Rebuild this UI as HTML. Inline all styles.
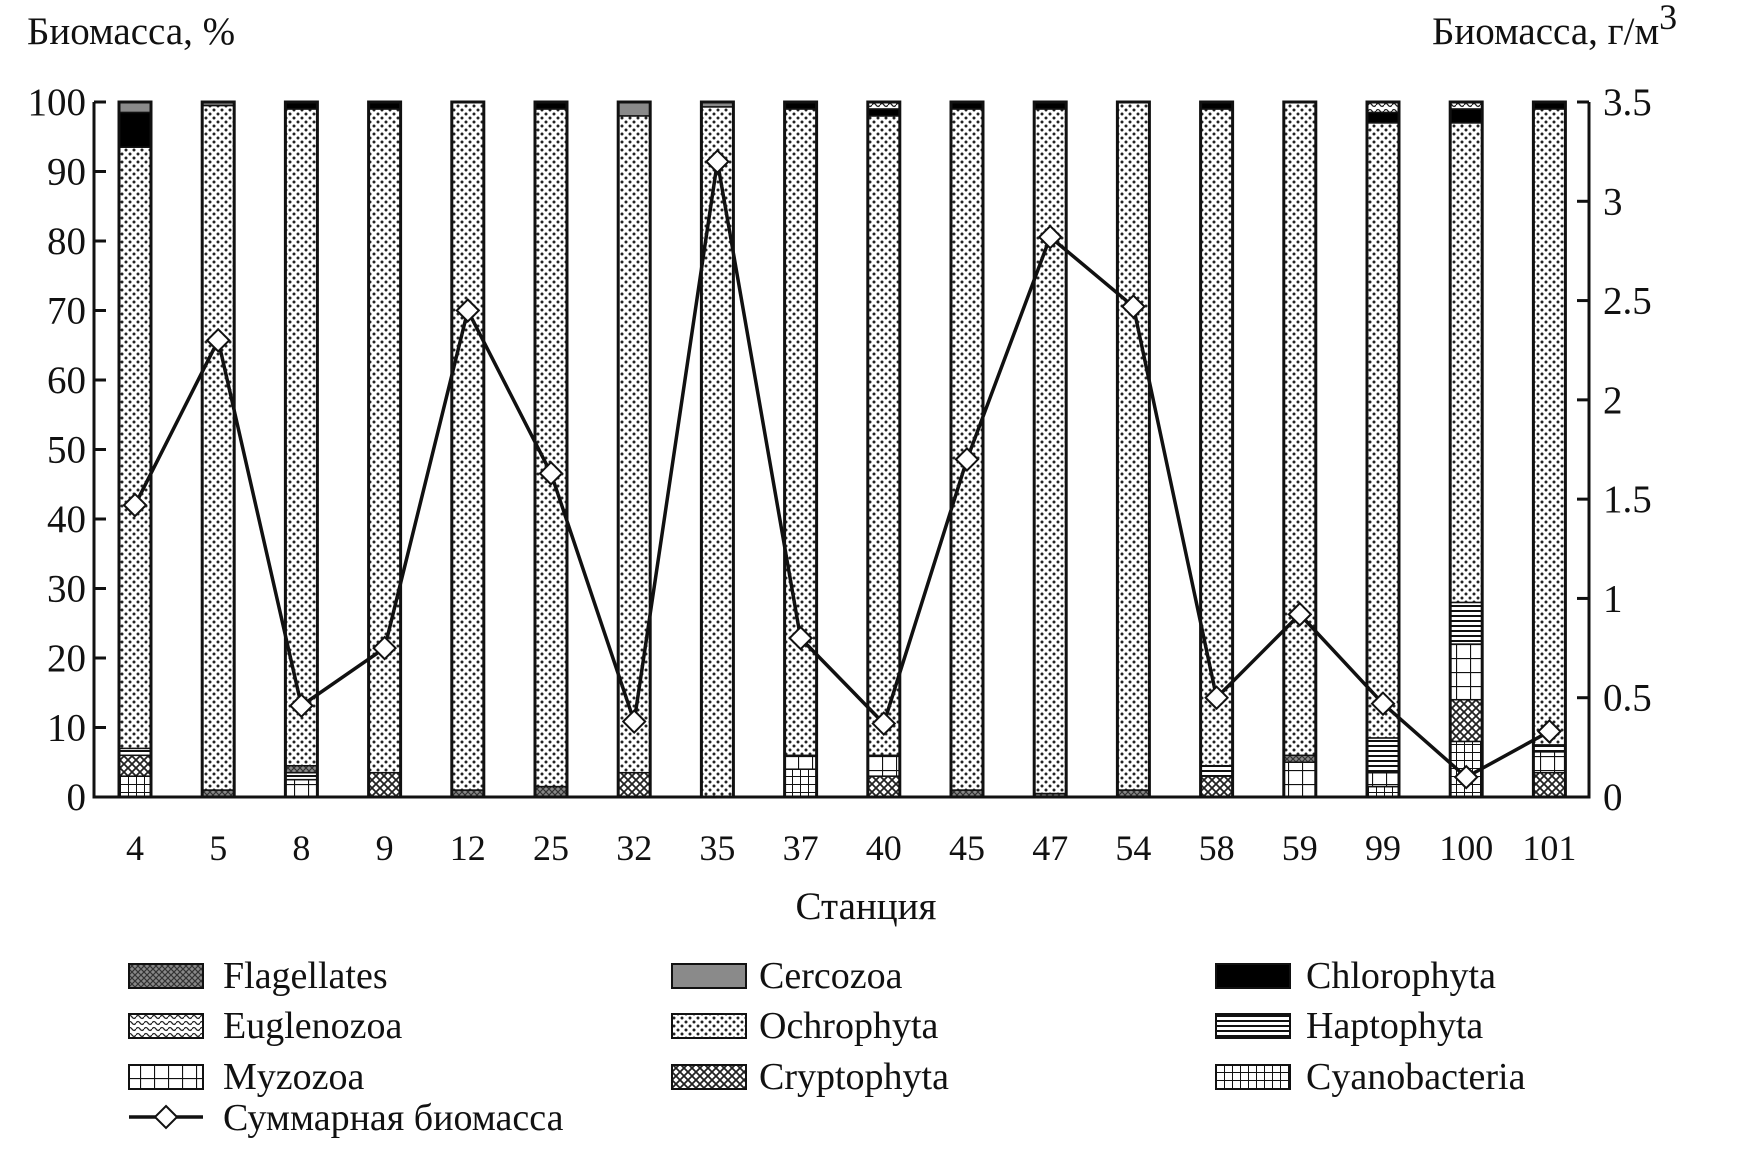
<!DOCTYPE html>
<html><head><meta charset="utf-8"><style>
html,body{margin:0;padding:0;background:#fff}
svg{display:block}
text{font-family:"Liberation Serif",serif;fill:#111}
</style></head><body>
<svg id="chart" width="1742" height="1151" viewBox="0 0 1742 1151" xmlns="http://www.w3.org/2000/svg">
<defs>
<pattern id="p-dots" width="8" height="8" patternUnits="userSpaceOnUse"><rect width="8" height="8" fill="#fff"/><circle cx="2" cy="2" r="1.5" fill="#222"/><circle cx="6" cy="6" r="1.5" fill="#222"/></pattern>
<pattern id="p-cyan" width="8" height="8" patternUnits="userSpaceOnUse"><rect width="8" height="8" fill="#fff"/><path d="M0 0H8M0 0V8" stroke="#111" stroke-width="2"/></pattern>
<pattern id="p-myzo" width="14" height="14" patternUnits="userSpaceOnUse"><rect width="14" height="14" fill="#fff"/><path d="M0 0H14M0 0V14" stroke="#111" stroke-width="2.2"/></pattern>
<pattern id="p-crypto" width="8" height="8" patternUnits="userSpaceOnUse"><rect width="8" height="8" fill="#fff"/><path d="M0 0L8 8M8 0L0 8" stroke="#222" stroke-width="1.8"/></pattern>
<pattern id="p-flag" width="6" height="6" patternUnits="userSpaceOnUse"><rect width="6" height="6" fill="#888"/><path d="M0 0L6 6M6 0L0 6" stroke="#333" stroke-width="1.2"/></pattern>
<pattern id="p-hapto" width="6" height="5" patternUnits="userSpaceOnUse"><rect width="6" height="5" fill="#fff"/><path d="M0 1H6" stroke="#111" stroke-width="2"/></pattern>
<pattern id="p-eugl" width="8" height="6" patternUnits="userSpaceOnUse"><rect width="8" height="6" fill="#fff"/><path d="M0 3Q2 0 4 3T8 3" stroke="#222" stroke-width="1.3" fill="none"/></pattern>
</defs>
<g id="plot"></g>
</svg>
<script>
const stations=["4","5","8","9","12","25","32","35","37","40","45","47","54","58","59","99","100","101"];
const cyanobacteria=[3,0,0,0,0,0,0,0,4,0,0,0,0,0,0,1.5,8,0];
const cryptophyta=[3,0,0,3.5,0,0,3.5,0,0,3,0,0,0,3,0,0,6,3.5];
const myzozoa=[0,0,2.5,0,0,0,0,0,2,3,0,0,0,0,5,2,8,3];
const haptophyta=[1,0,1,0,0,0,0,0,0,0,0,0,0,1.5,0,5,6,1];
const flagellates=[0,1,1,0,1,1.5,0,0,0,0,1,0.5,1,0,1,0,0,0];
const ochrophyta=[86.5,98.5,94.5,95.5,99,97.5,94.5,99.3,93,92,98,98.5,99,94.5,94,88.5,69,91.5];
const chlorophyta=[5,0,1,1,0,1,0,0,1,1,1,1,0,1,0,1.5,2,1];
const euglenozoa=[0,0,0,0,0,0,0,0,0,1,0,0,0,0,0,1.5,1,0];
const cercozoa=[1.5,0.5,0,0,0,0,2,0.7,0,0,0,0,0,0,0,0,0,0];
const totalBiomass=[1.47,2.3,0.46,0.75,2.45,1.63,0.38,3.2,0.8,0.37,1.7,2.82,2.47,0.5,0.92,0.47,0.1,0.33];
const leftTicks=[0,10,20,30,40,50,60,70,80,90,100];
const rightTicks=["0","0.5","1","1.5","2","2.5","3","3.5"];

const NS="http://www.w3.org/2000/svg";
const g=document.getElementById('plot');
function mk(tag,attrs,parent){const e=document.createElementNS(NS,tag);for(const k in attrs)e.setAttribute(k,attrs[k]);(parent||g).appendChild(e);return e;}
const X0=94,X1=1589,Y0=797,Y1=102;
const xPos=i=>135+i*83.2;
const yL=v=>Y0-(v/100)*(Y0-Y1);
const yR=v=>Y0-(v/3.5)*(Y0-Y1);
const BW=32;

const series=[["cyanobacteria",cyanobacteria,"url(#p-cyan)"],["cryptophyta",cryptophyta,"url(#p-crypto)"],["myzozoa",myzozoa,"url(#p-myzo)"],["haptophyta",haptophyta,"url(#p-hapto)"],["flagellates",flagellates,"url(#p-flag)"],["ochrophyta",ochrophyta,"url(#p-dots)"],["chlorophyta",chlorophyta,"#000"],["euglenozoa",euglenozoa,"url(#p-eugl)"],["cercozoa",cercozoa,"#8a8a8a"]];

stations.forEach((s,i)=>{
  let acc=0;
  const bg=mk('g',{});
  
  
  series.forEach(([name,arr,fill])=>{
    const v=arr[i]; if(!v) return;
    const r=mk('rect',{x:xPos(i)-BW/2,y:yL(acc+v),width:BW,height:yL(acc)-yL(acc+v),fill:fill,stroke:'#111','stroke-width':1.5},bg);
    
    
    acc+=v;
  });
  mk('rect',{x:xPos(i)-BW/2,y:yL(acc),width:BW,height:yL(0)-yL(acc),fill:'none',stroke:'#111','stroke-width':3},bg);
  const t=mk('text',{x:xPos(i),y:860,'font-size':36,'text-anchor':'middle'});
  t.textContent=s;
  
  
});

const ax=mk('path',{d:`M${X0} ${Y1}V${Y0}H${X1}V${Y1}`,fill:'none',stroke:'#111','stroke-width':3});


leftTicks.forEach(v=>{
  mk('path',{d:`M${X0} ${yL(v)}h12`,stroke:'#111','stroke-width':3});
  const t=mk('text',{x:86,y:yL(v)+13,'font-size':39,'text-anchor':'end'});
  t.textContent=v;
  
  
});
rightTicks.forEach(v=>{
  mk('path',{d:`M${X1} ${yR(+v)}h-12`,stroke:'#111','stroke-width':3});
  const t=mk('text',{x:1603,y:yR(+v)+13,'font-size':39,'text-anchor':'start'});
  t.textContent=v;
  
  
});

const pts=totalBiomass.map((v,i)=>xPos(i)+','+yR(v)).join(' ');
const ln=mk('polyline',{points:pts,fill:'none',stroke:'#111','stroke-width':3.5});


totalBiomass.forEach((v,i)=>{
  const x=xPos(i),y=yR(v);
  const d=mk('path',{d:`M${x} ${y-11}L${x+11} ${y}L${x} ${y+11}L${x-11} ${y}Z`,fill:'#fff',stroke:'#111','stroke-width':2});
  
  
});
</script>
<svg style="position:absolute;left:0;top:0" width="1742" height="1151" xmlns="http://www.w3.org/2000/svg">
<text x="27" y="44" font-size="39">Биомасса, %</text>
<text x="1432" y="44" font-size="39">Биомасса, г/м<tspan font-size="36" dy="-15">3</tspan></text>
<text x="866" y="919" font-size="39" text-anchor="middle">Станция</text>
<g font-size="38">
 <g><rect x="129" y="964" width="74" height="24" fill="url(#p-flag)" stroke="#111" stroke-width="2"/><text x="223" y="988">Flagellates</text></g>
 <g><rect x="129" y="1014" width="74" height="24" fill="url(#p-eugl)" stroke="#111" stroke-width="2"/><text x="223" y="1038">Euglenozoa</text></g>
 <g><rect x="129" y="1065" width="74" height="24" fill="url(#p-myzo)" stroke="#111" stroke-width="2"/><text x="223" y="1089">Myzozoa</text></g>
 <g><path d="M129 1117H203" stroke="#111" stroke-width="3.5"/><path d="M166 1106L177 1117L166 1128L155 1117Z" fill="#fff" stroke="#111" stroke-width="2"/><text x="223" y="1130">Суммарная биомасса</text></g>
 <g><rect x="672" y="964" width="74" height="24" fill="#8a8a8a" stroke="#111" stroke-width="2"/><text x="759" y="988">Cercozoa</text></g>
 <g><rect x="672" y="1014" width="74" height="24" fill="url(#p-dots)" stroke="#111" stroke-width="2"/><text x="759" y="1038">Ochrophyta</text></g>
 <g><rect x="672" y="1065" width="74" height="24" fill="url(#p-crypto)" stroke="#111" stroke-width="2"/><text x="759" y="1089">Cryptophyta</text></g>
 <g><rect x="1216" y="964" width="74" height="24" fill="#000" stroke="#111" stroke-width="2"/><text x="1306" y="988">Chlorophyta</text></g>
 <g><rect x="1216" y="1014" width="74" height="24" fill="url(#p-hapto)" stroke="#111" stroke-width="2"/><text x="1306" y="1038">Haptophyta</text></g>
 <g><rect x="1216" y="1065" width="74" height="24" fill="url(#p-cyan)" stroke="#111" stroke-width="2"/><text x="1306" y="1089">Cyanobacteria</text></g>
</g>
</svg>
</body></html>
